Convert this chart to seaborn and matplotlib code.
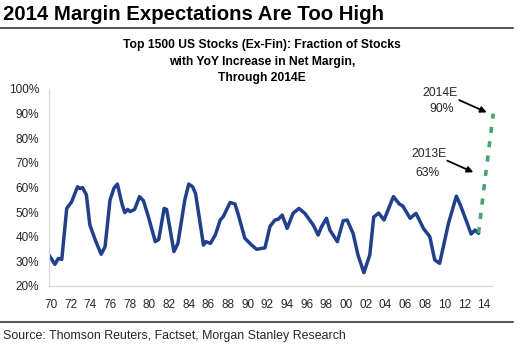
import matplotlib
matplotlib.use("Agg")
import matplotlib.pyplot as plt
import seaborn as sns
import pandas as pd
from matplotlib.lines import Line2D

# ---- data ----
hist_years = [1969.8, 1970.4, 1970.75, 1971.1, 1971.6, 1972.1, 1972.7, 1972.95, 1973.2, 1973.6,
              1973.95, 1974.5, 1975.1, 1975.5, 1976.0, 1976.4, 1976.75, 1977.2, 1977.5, 1977.8,
              1978.05, 1978.5, 1979.0, 1979.4, 1979.9, 1980.6, 1980.95, 1981.5, 1981.75, 1982.5,
              1982.9, 1983.6, 1984.0, 1984.4, 1984.7, 1985.5, 1985.75, 1986.2, 1986.7, 1987.2,
              1987.5, 1988.2, 1988.7, 1989.0, 1989.7, 1990.4, 1990.9, 1991.75, 1992.25, 1992.75,
              1993.1, 1993.5, 1994.0, 1994.6, 1995.2, 1995.8, 1996.65, 1997.15, 1997.5, 1998.0,
              1998.35, 1999.1, 1999.7, 2000.1, 2000.7, 2001.2, 2001.8, 2002.4, 2002.8, 2003.3,
              2003.85, 2004.8, 2005.4, 2005.75, 2006.5, 2007.1, 2007.85, 2008.5, 2009.0, 2009.5,
              2010.4, 2011.2, 2011.6, 2012.3, 2012.7, 2013.1, 2013.45]
hist_values = [32.6, 28.8, 31.2, 30.8, 51.5, 54.2, 60.3, 59.6, 60.0, 57.0,
               44.8, 38.7, 32.9, 36.0, 54.9, 59.7, 61.4, 53.6, 49.8, 51.1,
               50.2, 51.1, 56.3, 54.6, 48.1, 38.0, 38.9, 51.5, 51.1, 34.0,
               37.3, 54.9, 61.4, 60.3, 57.4, 36.6, 38.0, 37.3, 40.7, 46.8,
               48.1, 53.9, 53.3, 49.5, 39.4, 36.6, 34.9, 35.5, 44.1, 46.8,
               47.1, 48.8, 43.4, 49.5, 51.5, 49.5, 44.8, 40.7, 44.1, 47.5,
               42.7, 38.0, 46.5, 46.8, 41.4, 32.6, 25.4, 32.6, 48.0, 49.6,
               46.8, 56.3, 53.3, 52.5, 47.5, 49.5, 43.4, 40.0, 30.6, 29.2,
               45.5, 56.5, 52.9, 45.5, 41.1, 42.7, 41.4]
est_years = [2013.45, 2014.1, 2014.95]
est_values = [41.4, 63.0, 90.0]

xtick_years = list(range(1970, 2015, 2))
xtick_labels = [f"{y % 100:02d}" for y in xtick_years]
ytick_values = list(range(20, 101, 10))
ytick_labels = [f"{v}%" for v in ytick_values]

title = "2014 Margin Expectations Are Too High"
subtitle = ["Top 1500 US Stocks (Ex-Fin): Fraction of Stocks",
            "with YoY Increase in Net Margin,",
            "Through 2014E"]
source = "Source: Thomson Reuters, Factset, Morgan Stanley Research"

# ---- styling ----
sns.set_theme(style="white")
plt.rcParams["font.family"] = ["Liberation Sans", "DejaVu Sans"]

BLUE = "#1f3f93"
GREEN = "#3fa86a"
TXT = "#262626"

W, H = 520, 345
fig = plt.figure(figsize=(W / 100, H / 100), dpi=100)
fig.patch.set_facecolor("white")
ax = fig.add_axes([49 / W, 1 - 286 / H, (492 - 49) / W, (286 - 89) / H])

hist = pd.DataFrame({"year": hist_years, "value": hist_values})
est = pd.DataFrame({"year": est_years, "value": est_values})

sns.lineplot(data=hist, x="year", y="value", ax=ax, color=BLUE, linewidth=2.5,
             solid_joinstyle="round", solid_capstyle="round")
sns.lineplot(data=est, x="year", y="value", ax=ax, color=GREEN, linewidth=2.6,
             linestyle=(0, (1.7, 2.3)), clip_on=False)

ax.set_xlim(1969.8, 2014.82)
ax.set_ylim(20, 100)
ax.set_xticks(xtick_years)
ax.set_xticklabels(xtick_labels)
ax.set_yticks(ytick_values)
ax.set_yticklabels(ytick_labels)
ax.set_xlabel("")
ax.set_ylabel("")
ax.tick_params(axis="both", length=0, labelsize=8.5, colors=TXT)
ax.tick_params(axis="x", pad=9)
ax.tick_params(axis="y", pad=7)
for side in ["top", "right"]:
    ax.spines[side].set_visible(False)
for side in ["left", "bottom"]:
    ax.spines[side].set_color("#d9d9d9")
    ax.spines[side].set_linewidth(0.9)
ax.grid(False)

# annotations
ax.text(2009.53, 98.3, "2014E", ha="center", va="center", fontsize=8.7, color=TXT, clip_on=False)
ax.text(2009.74, 91.8, "90%", ha="center", va="center", fontsize=8.7, color=TXT)
ax.text(2008.39, 73.6, "2013E", ha="center", va="center", fontsize=8.7, color=TXT)
ax.text(2008.28, 66.0, "63%", ha="center", va="center", fontsize=8.7, color=TXT)
ax.annotate("", xy=(2014.28, 90.5), xytext=(2011.49, 95.5),
            arrowprops=dict(arrowstyle="-|>", color="black", lw=1.3,
                            mutation_scale=9, shrinkA=0, shrinkB=0))
ax.annotate("", xy=(2012.92, 66.2), xytext=(2010.27, 70.9),
            arrowprops=dict(arrowstyle="-|>", color="black", lw=1.3,
                            mutation_scale=9, shrinkA=0, shrinkB=0))

# titles and rules
fig.text(3 / W, 1 - 14 / H, title, ha="left", va="center", fontsize=14.7,
         fontweight="bold", color="black")
fig.add_artist(Line2D([0, 513 / W], [1 - 28 / H, 1 - 28 / H], color="#5a5a5a", lw=1.5))
for i, line in enumerate(subtitle):
    fig.text(262 / W, 1 - (45 + 16.5 * i) / H, line, ha="center", va="center",
             fontsize=8.7, fontweight="bold", color="black")
fig.add_artist(Line2D([0, 513 / W], [1 - 322 / H, 1 - 322 / H], color="#5a5a5a", lw=1.5))
fig.text(3 / W, 1 - 336 / H, source, ha="left", va="center", fontsize=8.9, color=TXT)

fig.savefig("out.png", dpi=100, facecolor="white")
